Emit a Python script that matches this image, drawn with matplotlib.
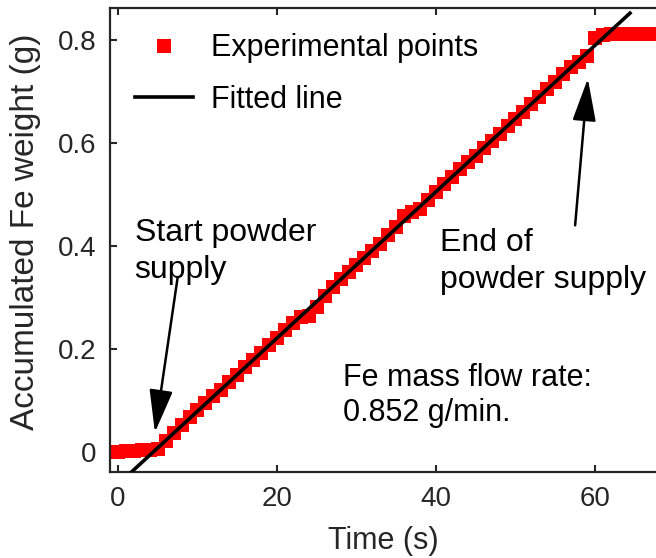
import matplotlib
matplotlib.use("Agg")
import matplotlib.pyplot as plt

plt.rcParams['font.family'] = ['Liberation Sans', 'DejaVu Sans']

# Experimental data (time in s, accumulated weight in g)
time_s = list(range(0, 69))
weight_g = [0.000, 0.001, 0.002, 0.003, 0.004, 0.006, 0.022, 0.037, 0.052, 0.068,
            0.082, 0.095, 0.108, 0.121, 0.135, 0.150, 0.164, 0.179, 0.193, 0.207,
            0.221, 0.236, 0.250, 0.262, 0.264, 0.281, 0.303, 0.320, 0.335, 0.349,
            0.363, 0.377, 0.391, 0.404, 0.421, 0.437, 0.458, 0.466, 0.471, 0.489,
            0.505, 0.520, 0.534, 0.549, 0.562, 0.574, 0.590, 0.603, 0.617, 0.633,
            0.646, 0.661, 0.675, 0.690, 0.705, 0.719, 0.733, 0.748, 0.758, 0.768,
            0.803, 0.810, 0.811, 0.811, 0.811, 0.811, 0.811, 0.811, 0.811]

# Fitted line endpoints
fit_t = [1.7, 64.4]
fit_w = [-0.039, 0.852]

xticks = [0, 20, 40, 60]
yticks = [0, 0.2, 0.4, 0.6, 0.8]
ytick_labels = ['0', '0.2', '0.4', '0.6', '0.8']

fig = plt.figure(figsize=(6.56, 5.58), dpi=100)
ax = fig.add_axes([110/656, 86/558, 564.5/656, 464/558])

ax.plot(time_s, weight_g, 's', color='#ff0000', markersize=10, markeredgewidth=0,
        label='Experimental points', zorder=2)
ax.plot(fit_t, fit_w, '-', color='black', linewidth=2.6, label='Fitted line', zorder=3)

ax.set_xlim(-1, 70)
ax.set_ylim(-0.039, 0.862)
ax.set_xticks(xticks)
ax.set_yticks(yticks)
ax.set_yticklabels(ytick_labels)

dark = '#262626'
for s in ax.spines.values():
    s.set_color(dark)
    s.set_linewidth(1.6)
ax.tick_params(direction='in', length=5, width=1.5, color=dark, labelcolor=dark,
               labelsize=20, top=True, right=True, pad=10)

ax.set_xlabel('Time (s)', fontsize=22, color=dark)
ax.xaxis.set_label_coords((383 - 110) / 564.5, -0.117)
ax.set_ylabel('Accumulated Fe weight (g)', fontsize=24, color=dark)
ax.yaxis.set_label_coords(-0.122, 0.517)

leg = ax.legend(loc='upper left', frameon=False, fontsize=22, handlelength=1.9,
                handletextpad=0.6, labelspacing=0.7, borderaxespad=0.0,
                bbox_to_anchor=(0.022, 0.972))
for t in leg.get_texts():
    t.set_color('black')

fs = 22
ax.text(2.1, 0.390, 'Start powder\nsupply', fontsize=23, va='center', ha='left',
        linespacing=1.3)
ax.text(40.5, 0.370, 'End of\npowder supply', fontsize=23, va='center', ha='left',
        linespacing=1.3)
ax.text(28.3, 0.109, 'Fe mass flow rate:\n0.852 g/min.', fontsize=fs, va='center',
        ha='left', linespacing=1.2)

arrow = dict(arrowstyle='-|>,head_length=1.2,head_width=0.33', mutation_scale=22,
             lw=1.8, color='black', shrinkA=0, shrinkB=0)
ax.annotate('', xy=(4.65, 0.038), xytext=(7.5, 0.338), arrowprops=arrow)
ax.annotate('', xy=(59.1, 0.725), xytext=(57.5, 0.44), arrowprops=arrow)

fig.savefig('out.png', dpi=100)
